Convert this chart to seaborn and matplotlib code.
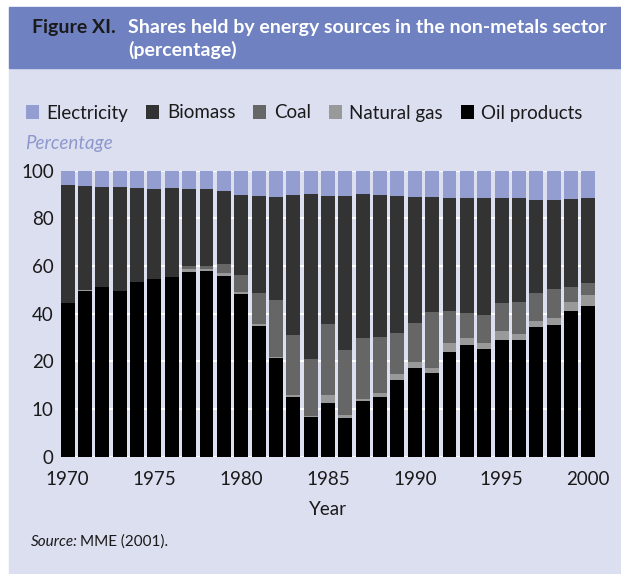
import numpy as np
import pandas as pd
import seaborn as sns
import matplotlib.pyplot as plt
from matplotlib.patches import Rectangle, Patch

# =====================================================
# data (shares)
# =====================================================

years = list(range(1970, 2001))

oil_products = [53.8, 58.0, 59.4, 58.0, 61.2, 62.0, 62.9, 64.7, 65.0, 63.3,
                56.9, 45.8, 34.6, 21.0, 14.0, 18.8, 13.6, 19.6, 20.9, 26.8,
                31.0, 29.3, 36.6, 39.0, 37.6, 40.8, 40.8, 45.3, 46.0, 50.9, 52.7]
natural_gas = [0.0, 0.3, 0.0, 0.0, 0.0, 0.2, 0.0, 0.9, 0.7, 1.0,
               0.7, 0.7, 0.4, 0.7, 0.3, 2.8, 0.9, 0.6, 1.4, 2.1,
               2.1, 1.7, 3.1, 2.5, 2.1, 3.1, 2.1, 2.1, 2.5, 3.2, 3.8]
coal = [0.0, 0.0, 0.0, 0.0, 0.0, 0.0, 0.0, 1.1, 1.0, 3.1,
        5.9, 10.8, 19.8, 20.8, 19.8, 24.9, 22.8, 21.3, 19.5, 14.3,
        13.6, 19.6, 11.2, 8.7, 9.8, 9.8, 11.2, 9.8, 10.1, 5.2, 4.2]
biomass = [41.2, 36.3, 34.9, 36.3, 32.7, 31.4, 31.0, 26.9, 26.9, 25.5,
           28.0, 33.8, 36.0, 49.0, 57.7, 44.6, 53.8, 50.3, 49.7, 47.9,
           44.1, 40.2, 39.5, 40.2, 40.9, 36.7, 36.3, 32.5, 31.1, 30.8, 29.7]
electricity = [5.0, 5.4, 5.7, 5.7, 6.1, 6.4, 6.1, 6.4, 6.4, 7.1,
               8.5, 8.9, 9.2, 8.5, 8.2, 8.9, 8.9, 8.2, 8.5, 8.9,
               9.2, 9.2, 9.6, 9.6, 9.6, 9.6, 9.6, 10.3, 10.3, 9.9, 9.6]

series_names = ["Electricity", "Biomass", "Coal", "Natural gas", "Oil products"]
series_colors = ["#939dd0", "#333333", "#666666", "#999999", "#000000"]

tick_values = [0, 10, 20, 40, 60, 80, 100]

BG = "#dcdff0"
BAND = "#6f81c1"
W, H = 621, 574

# =====================================================
# stacked totals (bottom-up), drawn back to front
# =====================================================

stack = np.array([oil_products, natural_gas, coal, biomass, electricity])
cum = np.cumsum(stack, axis=0)  # oil, +gas, +coal, +biomass, +electricity

df = pd.DataFrame({
    "year": [str(y) for y in years],
    "Oil products": cum[0],
    "Natural gas": cum[1],
    "Coal": cum[2],
    "Biomass": cum[3],
    "Electricity": cum[4],
})

plt.rcParams["font.family"] = ["Lato", "DejaVu Sans"]

fig = plt.figure(figsize=(W / 100, H / 100), dpi=100)
fig.patch.set_facecolor("white")

# panel background + title band
fig.patches.append(Rectangle((9 / W, 0), 1, 1 - 68 / H,
                             transform=fig.transFigure, color=BG, zorder=-2))
fig.patches.append(Rectangle((9 / W, 1 - 68 / H), 1, 61 / H,
                             transform=fig.transFigure, color=BAND, zorder=-2))

fig.text(32 / W, 1 - 27 / H, "Figure XI.", color="#1a1a1a",
         fontsize=14.0, fontweight="bold", va="center", ha="left")
fig.text(128 / W, 1 - 27 / H,
         "Shares held by energy sources in the non-metals sector",
         color="white", fontsize=14.0, fontweight="bold", va="center", ha="left")
fig.text(128 / W, 1 - 50 / H, "(percentage)", color="white",
         fontsize=14.0, fontweight="bold", va="center", ha="left")

ax = fig.add_axes([60.7 / W, 117.3 / H, 534.6 / W, 286 / H])
ax.set_facecolor(BG)

for name, col in zip(series_names, series_colors):
    sns.barplot(data=df, x="year", y=name, color=col, saturation=1,
                width=0.8, linewidth=0, ax=ax, zorder=2)

ax.set_xlim(-0.4, len(years) - 0.6)
ax.set_ylim(0, 100)
ax.set_yticks(np.linspace(0, 100, len(tick_values)))
ax.set_yticklabels([str(v) for v in tick_values])
ax.set_xticks(range(0, len(years), 5))
ax.set_xticklabels([str(y) for y in years[::5]])

ax.yaxis.grid(True, color="white", linewidth=1.5, zorder=0)
ax.set_axisbelow(True)
for s in ax.spines.values():
    s.set_visible(False)
ax.tick_params(axis="both", length=0, labelsize=13.5, colors="#1a1a1a")
ax.tick_params(axis="y", pad=5)
ax.tick_params(axis="x", pad=10)
ax.set_ylabel("")
ax.set_xlabel("Year", fontsize=13.5, color="#1a1a1a", labelpad=10)

# legend
handles = [Patch(facecolor=c, edgecolor="none") for c in series_colors]
fig.legend(handles, series_names, loc="center left",
           bbox_to_anchor=(26 / W, 1 - 113 / H), ncol=5, frameon=False,
           borderpad=0, borderaxespad=0,
           fontsize=13.5, handlelength=0.7, handleheight=0.7, handletextpad=0.4,
           columnspacing=0.95, labelcolor="#1a1a1a")

fig.text(25 / W, 1 - 143 / H, "Percentage", color="#8e98cc",
         fontsize=13.5, style="italic", va="center", ha="left")

# source note: italic label, then plain text right after it
src = fig.text(31 / W, 1 - 542 / H, "Source:", color="#1a1a1a",
               fontsize=11, style="italic", va="center", ha="left")
fig.canvas.draw()
bb = src.get_window_extent()
fig.text((bb.x1 + 2) / W, 1 - 542 / H, "MME (2001).", color="#1a1a1a",
         fontsize=11, va="center", ha="left")

fig.savefig("out.png", dpi=100)
